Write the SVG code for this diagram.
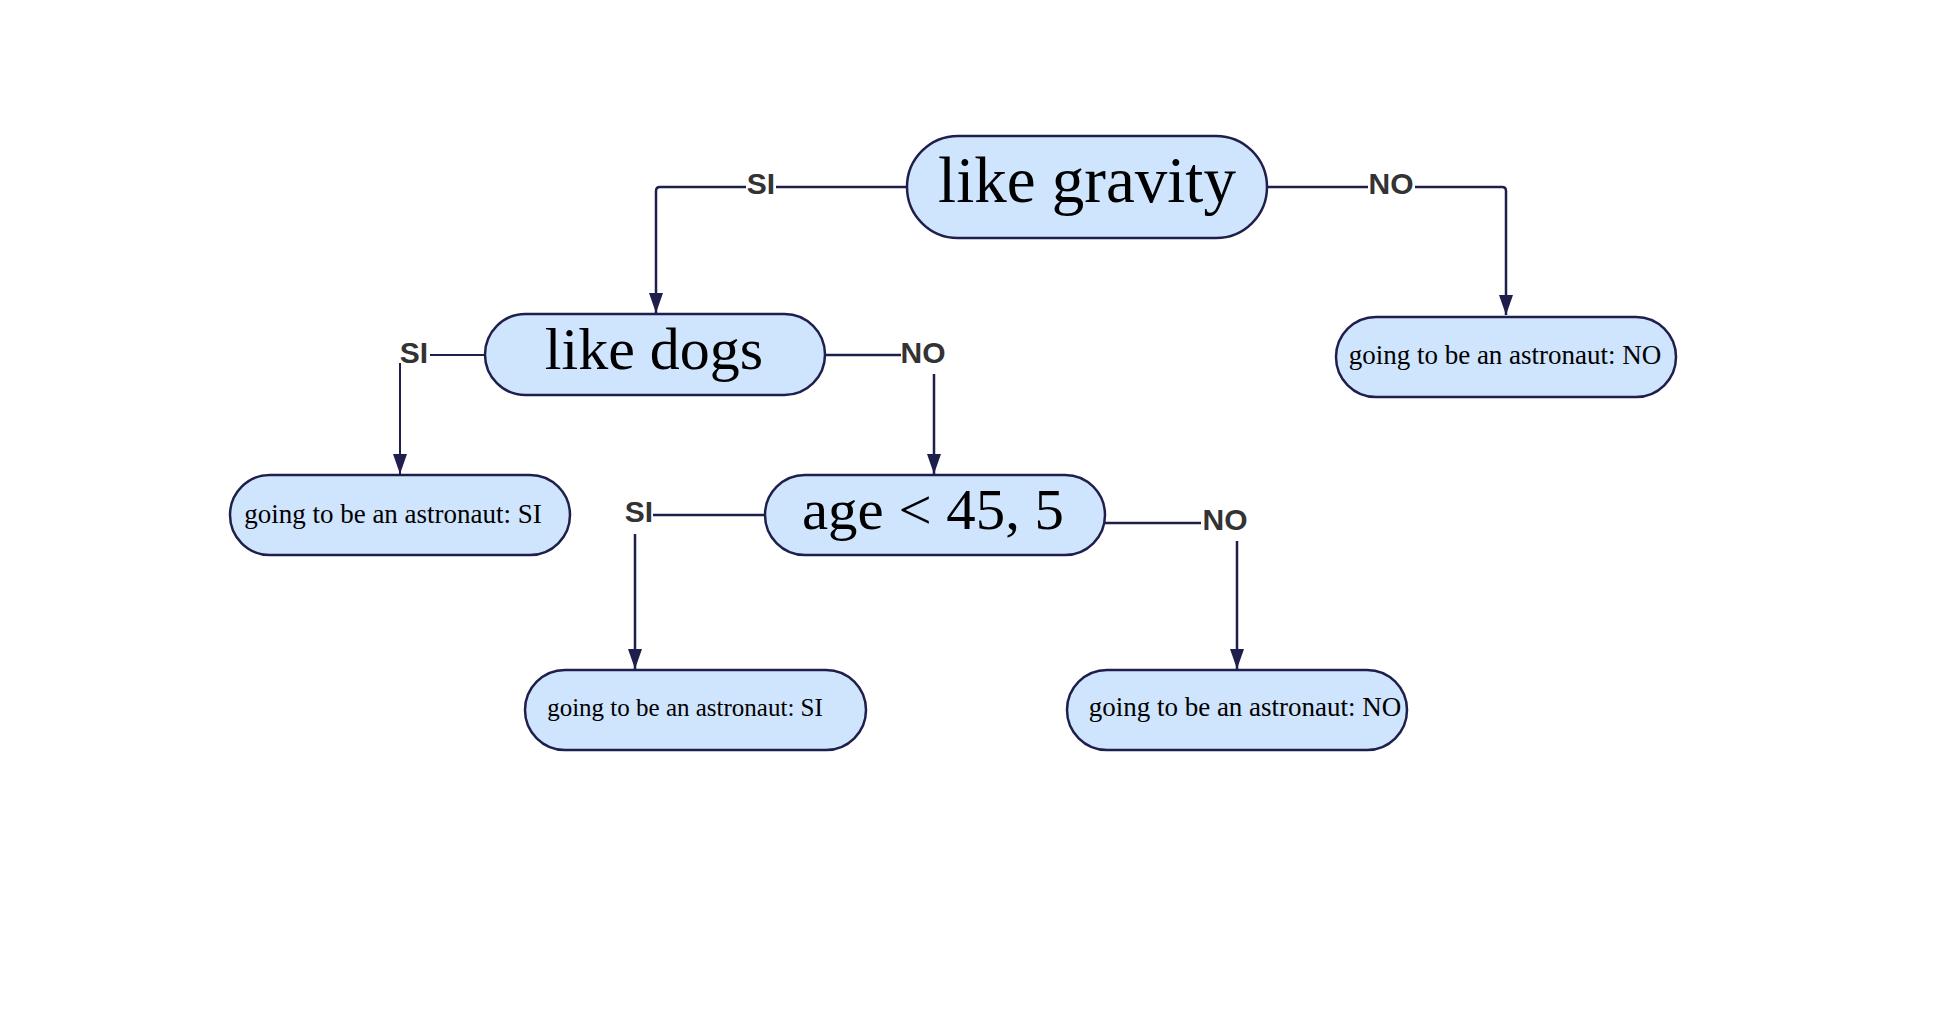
<svg xmlns="http://www.w3.org/2000/svg" width="1956" height="1021" viewBox="0 0 1956 1021">
<style>
.node{fill:#cfe4fd;stroke:#1f1f4d;stroke-width:2.5}
.t{font-family:"Liberation Serif",serif;fill:#000;text-anchor:middle}
.edge{fill:none;stroke:#1f1f4d;stroke-width:2.5}
.lbl{font-family:"Liberation Sans",Arial,sans-serif;font-weight:bold;font-size:30px;fill:#333;text-anchor:middle}
</style>
<defs>
<marker id="ah" markerUnits="userSpaceOnUse" markerWidth="20" markerHeight="14" refX="20" refY="7" orient="auto" viewBox="0 0 20 14">
<path d="M0,0 L20,7 L0,14 Z" fill="#1f1f4d"/>
</marker>
</defs>
<rect width="1956" height="1021" fill="#fff"/>
<g id="connectors">
<path class="edge" d="M907,187 H776 M746,187 H660 Q656,187 656,191 V313" marker-end="url(#ah)"/>
<text class="lbl" x="761" y="194">SI</text>
<path class="edge" d="M1267,187 H1368 M1415,187 H1502 Q1506,187 1506,191 V315" marker-end="url(#ah)"/>
<text class="lbl" x="1391" y="194">NO</text>
<path class="edge" d="M485,355 H430 M400,363 V474" marker-end="url(#ah)" style="stroke-width:2"/>
<text class="lbl" x="414" y="363">SI</text>
<path class="edge" d="M825,355 H901 M934,374 V474" marker-end="url(#ah)"/>
<text class="lbl" x="923" y="363">NO</text>
<path class="edge" d="M765,515 H653 M635,534 V669" marker-end="url(#ah)"/>
<text class="lbl" x="639" y="522">SI</text>
<path class="edge" d="M1105,523 H1201 M1237,541 V669" marker-end="url(#ah)"/>
<text class="lbl" x="1225" y="530">NO</text>
</g>
<g id="node-gravity">
<rect class="node" x="907" y="136" width="360" height="102" rx="51"/>
<text class="t" x="1087" y="202" font-size="65">like gravity</text>
</g>
<g id="node-dogs">
<rect class="node" x="485" y="314" width="340" height="81" rx="40.5"/>
<text class="t" x="654" y="369" font-size="60">like dogs</text>
</g>
<g id="node-no1">
<rect class="node" x="1336" y="317" width="340" height="80" rx="40"/>
<text class="t" x="1505" y="364" font-size="27">going to be an astronaut: NO</text>
</g>
<g id="node-si1">
<rect class="node" x="230" y="475" width="340" height="80" rx="40"/>
<text class="t" x="393" y="523" font-size="27">going to be an astronaut: SI</text>
</g>
<g id="node-age">
<rect class="node" x="765" y="475" width="340" height="80" rx="40"/>
<text class="t" x="933" y="529" font-size="58" textLength="262" lengthAdjust="spacingAndGlyphs">age &lt; 45, 5</text>
</g>
<g id="node-si2">
<rect class="node" x="525" y="670" width="341" height="80" rx="40"/>
<text class="t" x="685" y="716" font-size="25">going to be an astronaut: SI</text>
</g>
<g id="node-no2">
<rect class="node" x="1067" y="670" width="340" height="80" rx="40"/>
<text class="t" x="1245" y="716" font-size="27">going to be an astronaut: NO</text>
</g>
</svg>
